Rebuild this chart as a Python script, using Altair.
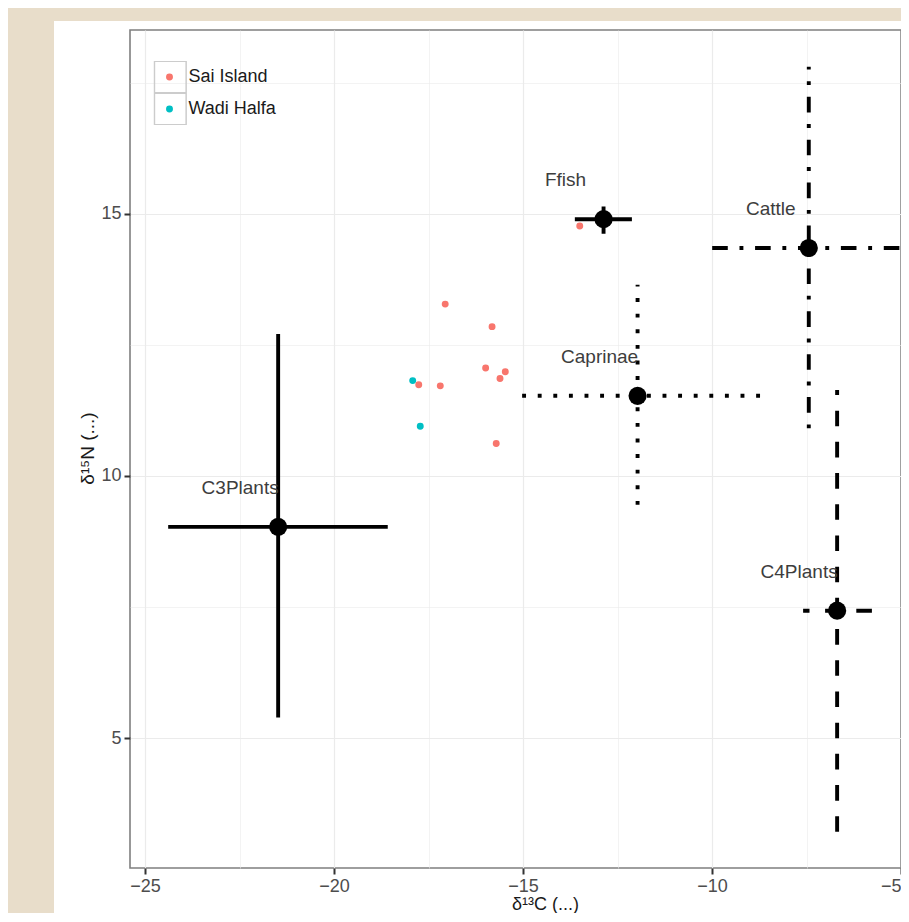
import altair as alt
import pandas as pd

# ---- data ----
sources = ["C3Plants", "Caprinae", "Cattle", "C4Plants", "Ffish"]
src_c = [-21.48, -11.97, -7.44, -6.69, -12.87]
src_n = [9.03, 11.53, 14.35, 7.43, 14.90]
src_c_lo = [-24.39, -15.05, -10.25, -7.59, -13.63]
src_c_hi = [-18.58, -8.73, -4.63, -5.77, -12.12]
src_n_lo = [5.39, 9.45, 10.91, 3.21, 14.62]
src_n_hi = [12.71, 13.65, 17.81, 11.64, 15.14]
src_linetype = ["solid", "dotted", "dotdash", "dashed", "solid"]

sai_c = [-17.06, -15.82, -15.99, -15.47, -15.61, -17.76, -17.19, -15.71, -13.50]
sai_n = [13.28, 12.85, 12.06, 11.99, 11.86, 11.74, 11.72, 10.62, 14.77]
wadi_c = [-17.92, -17.72]
wadi_n = [11.82, 10.95]

sites = ["Sai Island", "Wadi Halfa"]
site_colors = ["#F8766D", "#00BFC4"]

x_ticks = [-25, -22.5, -20, -17.5, -15, -12.5, -10, -7.5, -5]
y_ticks = [5, 7.5, 10, 12.5, 15, 17.5]

linetypes = ["solid", "dotted", "dotdash", "dashed"]
dash_patterns = [[1, 0], [3.9, 11.7], [3.9, 11.7, 15.6, 11.7], [15.6, 15.6]]

# ---- tables ----
src = pd.DataFrame({
    "source": sources, "c": src_c, "n": src_n,
    "c_lo": src_c_lo, "c_hi": src_c_hi,
    "n_lo": src_n_lo, "n_hi": src_n_hi,
    "lt": src_linetype,
})
cons = pd.DataFrame({
    "c": sai_c + wadi_c,
    "n": sai_n + wadi_n,
    "site": [sites[0]] * len(sai_c) + [sites[1]] * len(wadi_c),
})
cons["keybox"] = cons["site"] + " key"

W, H = 771, 838
xs = alt.Scale(domain=[-25.4, -5.0], nice=False, zero=False)
ys = alt.Scale(domain=[2.52, 18.51], nice=False, zero=False)

minor = "datum.value % 5 !== 0"
common_axis = dict(
    domain=False,
    format=".0f",
    labelExpr="datum.value % 5 === 0 ? datum.label : ''",
    tickOpacity={"condition": {"test": minor, "value": 0}, "value": 1},
    gridWidth={"condition": {"test": minor, "value": 0.6}, "value": 1.2},
    gridColor="#ebebeb",
    tickSize=6, tickWidth=2, tickColor="#333333",
    labelFontSize=18, labelColor="#4d4d4d", labelPadding=3,
    titleFontWeight="normal", titleColor="#1a1a1a",
)

x_axis = alt.Axis(values=x_ticks, title="δ¹³C (...)", titleFontSize=18,
                  titleX=415, titleY=41, titleAlign="center",
                  titleBaseline="alphabetic", **common_axis)
y_axis = alt.Axis(values=y_ticks, title="δ¹⁵N (...)", titleFontSize=19,
                  titleX=-37, titleY=418, titleAngle=270, titleAlign="center",
                  titleBaseline="alphabetic", **common_axis)

dash_enc = alt.StrokeDash("lt:N", scale=alt.Scale(domain=linetypes, range=dash_patterns), legend=None)

one = pd.DataFrame({"k": [0]})
beige = "#e8ddca"
strip_left = alt.Chart(one).mark_rect(color=beige).encode(
    x=alt.value(-130), x2=alt.value(-76), y=alt.value(-30), y2=alt.value(H + 60))
strip_top = alt.Chart(one).mark_rect(color=beige).encode(
    x=alt.value(-130), x2=alt.value(W + 10), y=alt.value(-30), y2=alt.value(-9))

# invisible layer whose legend draws the grey key boxes behind the colour legend
keyboxes = alt.Chart(cons).mark_point(opacity=0).encode(
    x=alt.X("c:Q", scale=xs),
    y=alt.Y("n:Q", scale=ys),
    shape=alt.Shape("keybox:N", scale=alt.Scale(range=["square", "square"]),
                    legend=alt.Legend(title=None, orient="none", legendX=23.3, legendY=31,
                                      symbolSize=1005, symbolType="square",
                                      symbolFillColor="white", symbolStrokeColor="#cccccc",
                                      symbolStrokeWidth=1.5, symbolOpacity=1,
                                      clipHeight=32, rowPadding=0,
                                      labelOpacity=0, labelFontSize=1,
                                      padding=0, zindex=0)),
)

points = alt.Chart(cons).mark_circle(size=48, opacity=1).encode(
    x=alt.X("c:Q", scale=xs, axis=x_axis),
    y=alt.Y("n:Q", scale=ys, axis=y_axis),
    color=alt.Color("site:N", scale=alt.Scale(domain=sites, range=site_colors),
                    legend=alt.Legend(title=None, orient="none", legendX=30.5, legendY=31,
                                      labelFontSize=18, labelColor="#1a1a1a",
                                      symbolType="circle", symbolSize=48,
                                      clipHeight=32, rowPadding=0,
                                      labelOffset=10, padding=0, zindex=1)),
)

vbars = alt.Chart(src).mark_rule(strokeWidth=3.9, color="black", strokeCap="butt", clip=True).encode(
    x=alt.X("c:Q", scale=xs),
    y=alt.Y("n_lo:Q", scale=ys),
    y2="n_hi:Q",
    strokeDash=dash_enc,
)
hbars = alt.Chart(src).mark_rule(strokeWidth=3.9, color="black", strokeCap="butt", clip=True).encode(
    x=alt.X("c_hi:Q", scale=xs),
    x2="c_lo:Q",
    y=alt.Y("n:Q", scale=ys),
    strokeDash=dash_enc,
)
centers = alt.Chart(src).mark_circle(size=330, color="black", opacity=1).encode(
    x=alt.X("c:Q", scale=xs), y=alt.Y("n:Q", scale=ys))
labels = alt.Chart(src).mark_text(dx=-38, dy=-39, fontSize=19, color="#3d3d3d",
                                  align="center", baseline="middle").encode(
    x=alt.X("c:Q", scale=xs), y=alt.Y("n:Q", scale=ys), text="source:N")

chart = alt.layer(strip_left, strip_top, keyboxes, points, hbars, vbars, centers, labels).properties(
    width=W, height=H,
    autosize=alt.AutoSizeParams(type="none"),
    padding={"left": 122, "top": 22, "right": 0, "bottom": 45},
    background="white",
).configure(font="Liberation Sans").configure_view(stroke="#7f7f7f", strokeWidth=1.6)

chart.save("out.html", embed_options={"renderer": "svg", "actions": False})
